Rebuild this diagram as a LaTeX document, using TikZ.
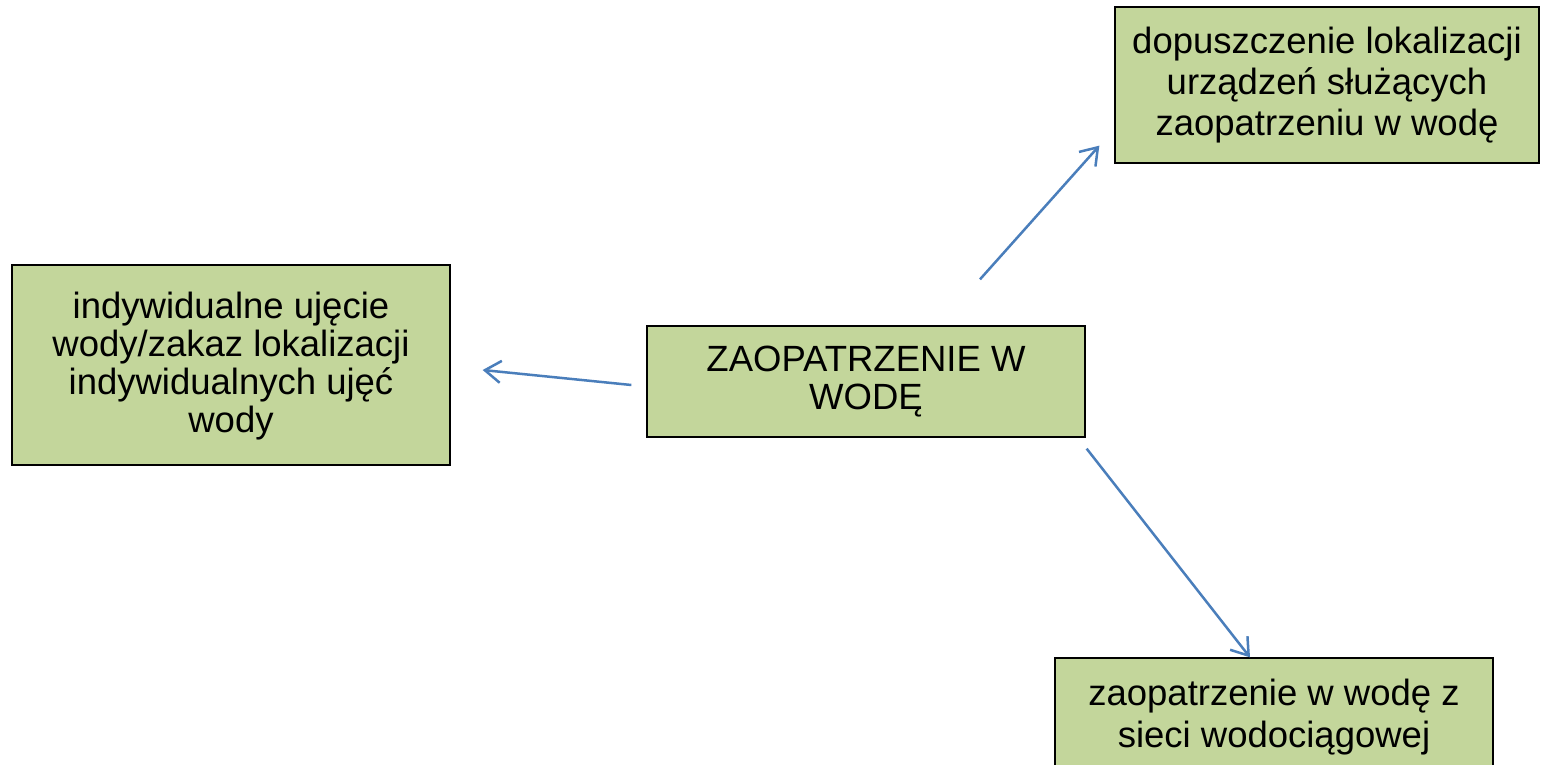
\documentclass[tikz,border=0pt]{standalone}
\usepackage{fontspec}
\setmainfont{Liberation Sans}
\usetikzlibrary{arrows.meta}
\definecolor{boxgreen}{HTML}{C3D69B}
\definecolor{arrblue}{HTML}{4A7EBB}
\begin{document}
\begin{tikzpicture}[x=1pt,y=-1pt,
  box/.style={draw=black,line width=1.3pt,fill=boxgreen,align=center,inner sep=0pt,
    font=\fontsize{36.5}{38}\selectfont},
  arr/.style={draw=arrblue,line width=2.5pt,-{Straight Barb[length=16pt,width=22pt,line width=2.5pt]}}]
\useasboundingbox (0,0) rectangle (1542,765);
\fill[white] (0,0) rectangle (1542,765);
\clip (0,0) rectangle (1542,765);
\node[box,minimum width=438pt,minimum height=111pt] (c) at (866,381.5) {ZAOPATRZENIE W\\WODĘ};
\node[box,minimum width=438pt,minimum height=200pt,text depth=6pt] (l) at (231,365) {indywidualne ujęcie\\wody/zakaz lokalizacji\\indywidualnych ujęć\\wody};
\node[box,minimum width=424pt,minimum height=156pt,font=\fontsize{36.5}{41}\selectfont] (tr) at (1327,85) {dopuszczenie lokalizacji\\urządzeń służących\\zaopatrzeniu w wodę};
\node[box,minimum width=438pt,minimum height=118pt,font=\fontsize{36.5}{42}\selectfont] (b) at (1274,717) {zaopatrzenie w wodę z\\sieci wodociągowej};
\draw[arr] ([shift={(114,-46)}]c.north) -- ([shift={(-15,-18)}]tr.south west);
\draw[arr] ([shift={(-15,3.5)}]c.west) -- ([shift={(32,5)}]l.east);
\draw[arr] ([shift={(1,11)}]c.south east) -- ([shift={(-24,0)}]b.north);
\end{tikzpicture}
\end{document}
